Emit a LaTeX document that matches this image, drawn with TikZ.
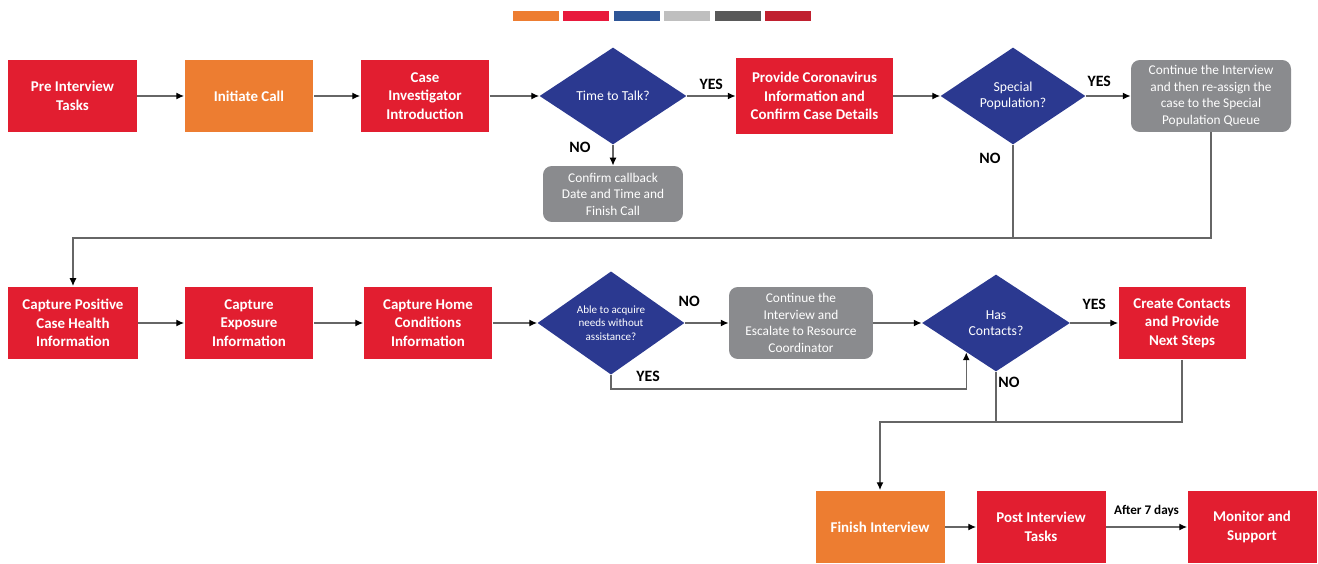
\documentclass[tikz,border=0pt]{standalone}
\usepackage{fontspec}
\setmainfont{Carlito}
\usetikzlibrary{shapes.geometric,arrows.meta,calc}

\definecolor{cvred}{HTML}{E21E30}
\definecolor{cvorange}{HTML}{ED7D31}
\definecolor{cvblue}{HTML}{2B3990}
\definecolor{cvgray}{HTML}{8A8B8E}
\definecolor{cvline}{HTML}{666666}
\definecolor{keyorange}{HTML}{ED7D31}
\definecolor{keyred}{HTML}{E8193C}
\definecolor{keyblue}{HTML}{2E5597}
\definecolor{keylight}{HTML}{BFBFBF}
\definecolor{keydark}{HTML}{595959}
\definecolor{keycrimson}{HTML}{C0202F}

\tikzset{
  redbox/.style={fill=cvred, text=white, font={\fontsize{8.5}{10.5}\selectfont\bfseries},
    align=center, minimum width=2.58cm, minimum height=1.46cm, inner sep=1pt},
  orangebox/.style={redbox, fill=cvorange},
  graybox/.style={fill=cvgray, rounded corners=5pt, text=white,
    font={\fontsize{7.6}{9.4}\selectfont}, align=center, inner sep=1pt},
  decision/.style={diamond, fill=cvblue, text=white, font={\fontsize{7.8}{9}\selectfont},
    align=center, minimum width=2.94cm, minimum height=1.94cm, inner sep=0pt},
  flowline/.style={draw=cvline, line width=0.8pt, -{Latex[length=4.5pt,width=4pt,color=black]}},
  plainline/.style={draw=cvline, line width=0.8pt},
  answer/.style={font={\fontsize{9}{10}\selectfont\bfseries}, text=black, inner sep=1pt}
}

\begin{document}
\begin{tikzpicture}[x=0.02cm, y=-0.02cm]
  \useasboundingbox (0,0) rectangle (1318,564);

  % colour key along the top
  \foreach \c [count=\i from 0] in {keyorange,keyred,keyblue,keylight,keydark,keycrimson}
    \fill[\c] (513+50.4*\i,11) rectangle ++(46,10);

  % first row
  \node[redbox] (pre) at (72.5,96) {Pre Interview\\Tasks};
  \node[orangebox] (init) at (249,96) {Initiate Call};
  \node[redbox] (case) at (425,96) {Case\\Investigator\\Introduction};
  \node[decision] (talk) at (613,96) {Time to Talk?};
  \node[redbox, minimum width=3.14cm, minimum height=1.52cm] (prov) at (814.5,96)
    {Provide Coronavirus\\Information and\\Confirm Case Details};
  \node[decision, minimum width=2.9cm] (spec) at (1013,96) {Special\\Population?};
  \node[graybox, minimum width=3.2cm, minimum height=1.44cm] (moveq) at (1211,96)
    {Continue the Interview\\and then re-assign the\\case to the Special\\Population Queue};
  \node[graybox, minimum width=2.8cm, minimum height=1.12cm] (callback) at (613,194)
    {Confirm callback\\Date and Time and\\Finish Call};

  % second row
  \node[redbox, minimum width=2.6cm] (cpos) at (73,323) {Capture Positive\\Case Health\\Information};
  \node[redbox] (cexp) at (249,323) {Capture\\Exposure\\Information};
  \node[redbox] (chome) at (428,323) {Capture Home\\Conditions\\Information};
  \node[decision, font={\fontsize{6.3}{7.8}\selectfont}] (able) at (611,323)
    {Able to acquire\\needs without\\assistance?};
  \node[graybox, minimum width=2.88cm, minimum height=1.44cm] (escal) at (801,323)
    {Continue the\\Interview and\\Escalate to Resource\\Coordinator};
  \node[decision, minimum width=2.96cm] (has) at (996,323) {Has\\Contacts?};
  \node[redbox, minimum width=2.54cm] (create) at (1182,323) {Create Contacts\\and Provide\\Next Steps};

  % third row
  \node[orangebox] (fin) at (880,527) {Finish Interview};
  \node[redbox] (post) at (1041,527) {Post Interview\\Tasks};
  \node[redbox] (mon) at (1252,527) {Monitor and\\Support};

  % helper points for the long returns
  \coordinate (bus) at (0,238);
  \coordinate (join) at (0,422);
  \coordinate (hasin) at ($(has.west)!0.6!(has.south)$);

  % connectors, first row
  \draw[flowline] (pre) -- (init);
  \draw[flowline] (init) -- (case);
  \draw[flowline] (case) -- (talk);
  \draw[flowline] (talk) -- (prov) node[answer, midway, above=2pt] {YES};
  \draw[flowline] (talk.south) -- (callback.north) node[answer, pos=0.1, left=0.4cm] {NO};
  \draw[flowline] (prov) -- (spec);
  \draw[flowline] (spec) -- (moveq) node[answer, pos=0.3, above=4pt] {YES};
  \draw[plainline] (spec.south) -- (spec.south |- bus) node[answer, pos=0.15, left=0.2cm] {NO};
  \draw[flowline] (moveq.south) -- (moveq.south |- bus) -| (cpos.north);

  % connectors, second row
  \draw[flowline] (cpos) -- (cexp);
  \draw[flowline] (cexp) -- (chome);
  \draw[flowline] (chome) -- (able);
  \draw[flowline] (able) -- (escal) node[answer, pos=0.1, above=8pt] {NO};
  \draw[flowline] (escal) -- (has);
  \draw[flowline] (able.south) -- ++(0,14) -| (hasin) node[answer, pos=0.025, above right=3pt] {YES};
  \draw[flowline] (has) -- (create) node[answer, midway, above=6pt] {YES};
  \draw[plainline] (has.south) -- (has.south |- join) node[answer, pos=0.2, right] {NO};
  \draw[flowline] (create.south) -- (create.south |- join) -| (fin.north);

  % connectors, third row
  \draw[flowline] (fin) -- (post);
  \draw[flowline] (post) -- (mon)
    node[midway, above=2pt, font={\fontsize{7.5}{9}\selectfont\bfseries}] {After 7 days};
\end{tikzpicture}
\end{document}
